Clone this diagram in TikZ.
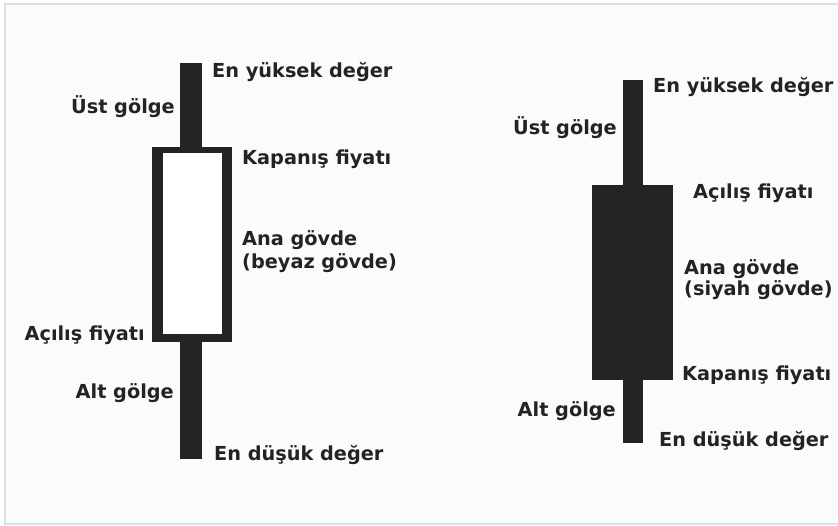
\documentclass[tikz,border=0pt]{standalone}
\usepackage{fontspec}
\setmainfont{DejaVu Sans}
\definecolor{ink}{HTML}{232323}
\definecolor{bg}{HTML}{FAFBFD}
\definecolor{frame}{HTML}{DEDFE0}
\begin{document}
\begin{tikzpicture}[x=1pt,y=-1pt,
  lbl/.style={inner sep=0pt,text=ink,font=\bfseries\fontsize{19.3}{23}\selectfont},
  lft/.style={lbl,anchor=west},
  rgt/.style={lbl,anchor=east}]
\useasboundingbox (0,0) rectangle (838,525);
\fill[white] (0,0) rectangle (838,525);
\filldraw[fill=bg,draw=frame,line width=1.2pt] (5,4) -- (5,524) -- (838,524) (5,524) -- (5,4) -- (838,4);
\fill[bg] (5.6,4.6) rectangle (838,523.4);
% left (white) candle
\fill[ink] (180,63) rectangle (202,147);
\fill[ink] (152,147) rectangle (232,342);
\fill[white] (163,153) rectangle (222,334);
\fill[ink] (180,342) rectangle (202,459);
% right (black) candle
\fill[ink] (623,80) rectangle (643,185);
\fill[ink] (592,185) rectangle (673,380);
\fill[ink] (623,380) rectangle (643,443);
% labels left
\node[lft] (lhigh) at (212,72) {En yüksek değer};
\node[rgt] (lup) at (175,107) {Üst gölge};
\node[lft] (lclose) at (242,159) {Kapanış fiyatı};
\node[lft] (lbody1) at (242,240) {Ana gövde};
\node[lft] (lbody2) at (242,263) {(beyaz gövde)};
\node[rgt] (lopen) at (145,335) {Açılış fiyatı};
\node[rgt] (llow) at (174,393) {Alt gölge};
\node[lft] (lmin) at (214,455) {En düşük değer};
% labels right
\node[lft] (rhigh) at (653,87) {En yüksek değer};
\node[rgt] (rup) at (617,128) {Üst gölge};
\node[lft] (ropen) at (693,193) {Açılış fiyatı};
\node[lft] (rbody1) at (684,269) {Ana gövde};
\node[lft] (rbody2) at (684,290) {(siyah gövde)};
\node[lft] (rclose) at (682,375) {Kapanış fiyatı};
\node[rgt] (rlow) at (616,411) {Alt gölge};
\node[lft] (rmin) at (659,441) {En düşük değer};
\end{tikzpicture}
\end{document}
